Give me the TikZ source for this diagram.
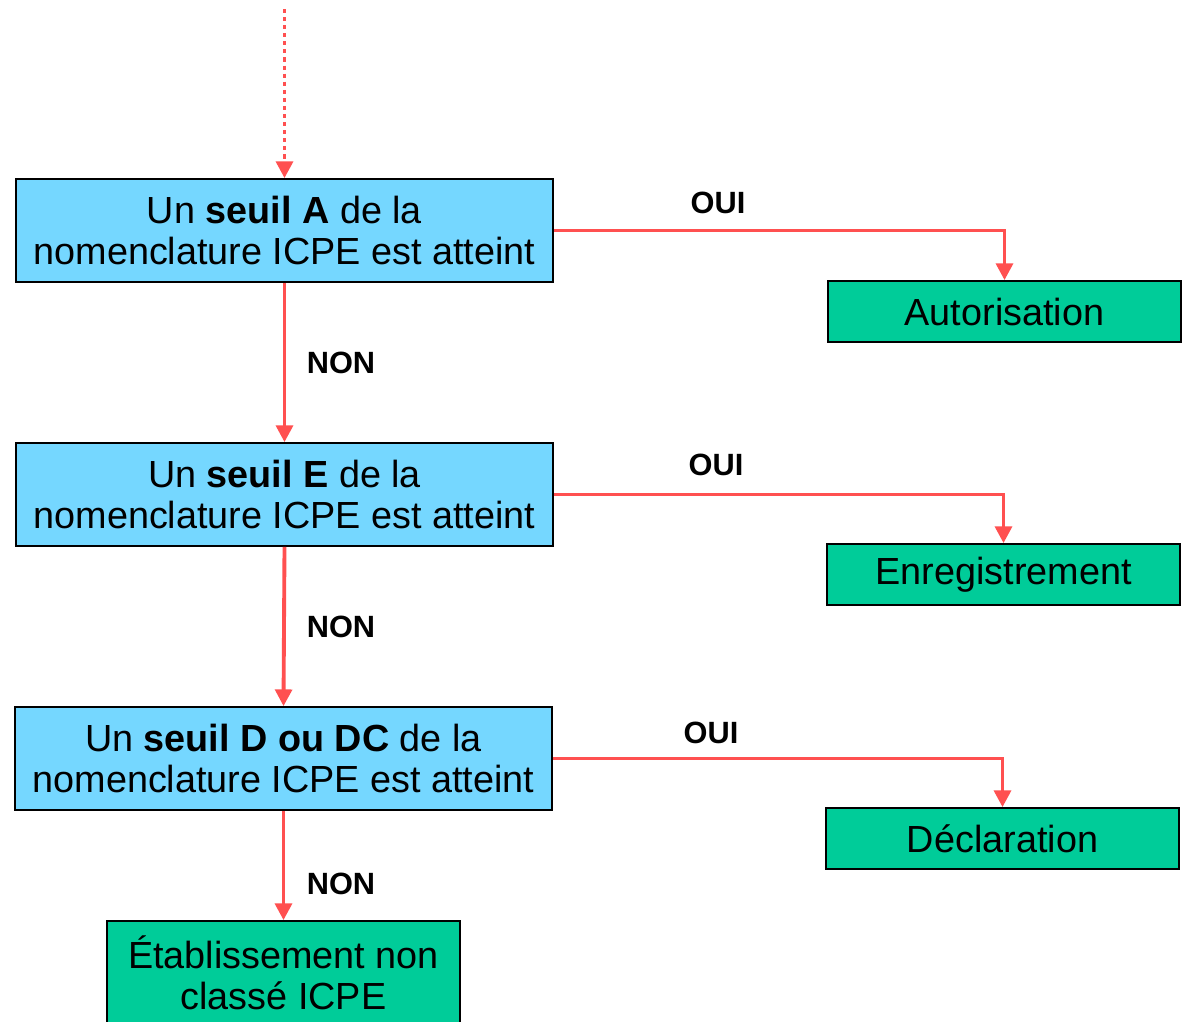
\documentclass[tikz,border=0pt]{standalone}
\usepackage{fontspec}
\setmainfont{Liberation Sans}
\usetikzlibrary{arrows.meta}

\definecolor{seuilblue}{RGB}{117,215,255}
\definecolor{regimegreen}{RGB}{0,204,153}
\definecolor{flowred}{RGB}{255,80,80}

\begin{document}
\begin{tikzpicture}[x=0.02cm,y=-0.02cm,
  question/.style={draw=black,fill=seuilblue,line width=1pt,align=center,inner sep=0pt,
    minimum width=10.74cm,minimum height=2.06cm,font=\fontsize{21.5}{23.5}\selectfont},
  regime/.style={draw=black,fill=regimegreen,line width=1pt,align=center,inner sep=0pt,
    minimum width=7.06cm,minimum height=1.22cm,font=\fontsize{21.5}{23.5}\selectfont},
  flow/.style={>={Triangle[length=9.5pt,width=9.5pt]},draw=flowred,line width=2.2pt},
  answer/.style={font=\fontsize{17.5}{20}\selectfont\bfseries}]

\useasboundingbox (0,0) rectangle (1182,1021);

% Draw the three questions
\node[question] (seuilA) at (284.5,230.5) {Un \textbf{seuil A} de la\\nomenclature ICPE est atteint};
\node[question] (seuilE) at (284.5,494.5) {Un \textbf{seuil E} de la\\nomenclature ICPE est atteint};
\node[question] (seuilD) at (283.5,758.5) {Un \textbf{seuil D ou DC} de la\\nomenclature ICPE est atteint};

% Draw the outcomes
\node[regime] (autorisation) at (1004.5,311.5) {Autorisation};
\node[regime] (enregistrement) at (1003.5,574.5) {Enregistrement};
\node[regime] (declaration) at (1002.5,838.5) {Déclaration};
\node[regime,minimum height=2.06cm] (nonclasse) at (283.5,972.5) {Établissement non\\classé ICPE};

% Incoming dotted arrow
\coordinate (entree) at (284.5,9);
\draw[flow,->,dash pattern=on 2.3pt off 2.3pt] (entree) -- (seuilA.north);

% Draw and label the OUI branches
\draw[flow,->] (seuilA.east) -| (autorisation.north);
\draw[flow,->] (seuilE.east) -| (enregistrement.north);
\draw[flow,->] (seuilD.east) -| (declaration.north);
\node[answer] (ouiA) at (718,203) {OUI};
\node[answer] (ouiE) at (716,465) {OUI};
\node[answer] (ouiD) at (711,733) {OUI};

% Draw and label the NON branches
\draw[flow,->] (seuilA.south) -- (seuilE.north);
\draw[flow,->] (seuilE.south) -- (seuilD.north);
\draw[flow,->] (seuilD.south) -- (nonclasse.north);
\node[answer] (nonA) at (341,363) {NON};
\node[answer] (nonE) at (341,627) {NON};
\node[answer] (nonD) at (341,884) {NON};

\end{tikzpicture}
\end{document}
